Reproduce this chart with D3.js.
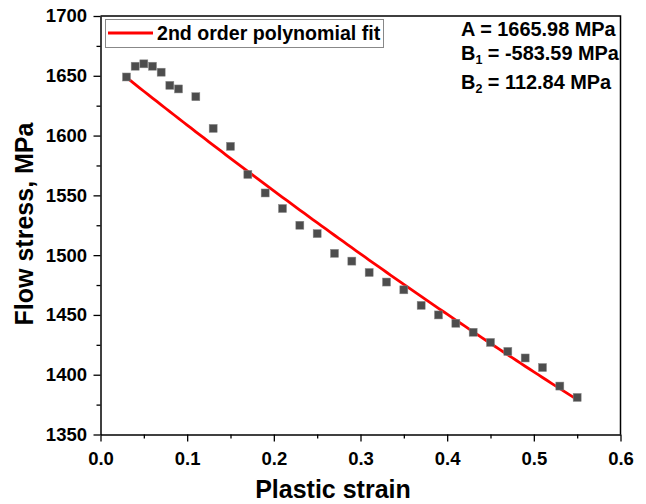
<!DOCTYPE html>
<html>
<head>
<meta charset="utf-8">
<script src="https://cdn.jsdelivr.net/npm/d3@7"></script>
<style>
  html, body { margin: 0; padding: 0; background: #fff; }
  svg { display: block; font-family: Arial, "Liberation Sans", sans-serif; }
</style>
</head>
<body>
<svg id="chart" width="646" height="504"></svg>
<script>
// Measured flow stress against plastic strain
const strain = [0.03, 0.04, 0.05, 0.06, 0.07, 0.08, 0.09, 0.11, 0.13, 0.15,
                0.17, 0.19, 0.21, 0.23, 0.25, 0.27, 0.29, 0.31, 0.33, 0.35,
                0.37, 0.39, 0.41, 0.43, 0.45, 0.47, 0.49, 0.51, 0.53, 0.55];
const stress = [1649, 1658, 1660, 1658, 1653, 1642, 1639, 1632.5, 1606, 1591,
                1567.5, 1552, 1539, 1525, 1518, 1501.5, 1495, 1485.5, 1477.5, 1471,
                1458, 1450, 1443, 1435.5, 1427, 1419.5, 1414, 1406, 1390.5, 1381];

// Second order polynomial fit coefficients (MPa)
const fitA = 1665.98;
const fitB1 = -583.59;
const fitB2 = 112.84;
const fitRange = [0.03, 0.55];

// Tick values
const xTicks = [0.0, 0.1, 0.2, 0.3, 0.4, 0.5, 0.6];
const xMinor = [0.05, 0.15, 0.25, 0.35, 0.45, 0.55];
const yTicks = [1350, 1400, 1450, 1500, 1550, 1600, 1650, 1700];
const yMinor = [1375, 1425, 1475, 1525, 1575, 1625, 1675];

const svg = d3.select("#chart");
const m = { left: 100.5, right: 620.5, top: 16, bottom: 434.5 };

const x = d3.scaleLinear().domain([0, 0.6]).range([m.left, m.right]);
const y = d3.scaleLinear().domain([1350, 1700]).range([m.bottom, m.top]);

// Frame (top and right)
svg.append("path")
  .attr("d", `M${m.left},${m.top}H${m.right}V${m.bottom}`)
  .attr("fill", "none").attr("stroke", "#000").attr("stroke-width", 1.5);

// Bottom axis
const gx = svg.append("g").attr("transform", `translate(0,${m.bottom})`);
gx.call(d3.axisBottom(x).tickValues(xTicks).tickFormat(d3.format(".1f")).tickSize(7).tickSizeOuter(0));
gx.append("g").call(d3.axisBottom(x).tickValues(xMinor).tickFormat("").tickSize(4).tickSizeOuter(0))
  .select(".domain").remove();

// Left axis
const gy = svg.append("g").attr("transform", `translate(${m.left},0)`);
gy.call(d3.axisLeft(y).tickValues(yTicks).tickFormat(d3.format("d")).tickSize(7).tickSizeOuter(0));
gy.append("g").call(d3.axisLeft(y).tickValues(yMinor).tickFormat("").tickSize(4).tickSizeOuter(0))
  .select(".domain").remove();

svg.selectAll(".domain").attr("stroke", "#000").attr("stroke-width", 1.5);
svg.selectAll(".tick line").attr("stroke", "#000").attr("stroke-width", 1.3);
gx.selectAll(".tick text")
  .attr("font-size", 18.5).attr("font-weight", "bold").attr("fill", "#000")
  .attr("font-family", "Arial, 'Liberation Sans', sans-serif")
  .attr("dy", null).attr("y", 30);
gy.selectAll(".tick text")
  .attr("font-size", 18.5).attr("font-weight", "bold").attr("fill", "#000")
  .attr("font-family", "Arial, 'Liberation Sans', sans-serif")
  .attr("x", -13.5);

// Axis titles
svg.append("text")
  .attr("x", 333).attr("y", 498)
  .attr("text-anchor", "middle").attr("font-size", 25).attr("font-weight", "bold")
  .text("Plastic strain");
svg.append("text")
  .attr("transform", "translate(33,224) rotate(-90)")
  .attr("text-anchor", "middle").attr("font-size", 25).attr("font-weight", "bold")
  .text("Flow stress, MPa");

// Fit curve
const fitX = d3.range(fitRange[0], fitRange[1] + 1e-9, 0.005);
const fit = v => fitA + fitB1 * v + fitB2 * v * v;
svg.append("path")
  .datum(fitX)
  .attr("d", d3.line().x(d => x(d)).y(d => y(fit(d))))
  .attr("fill", "none").attr("stroke", "#ff0000").attr("stroke-width", 2.8);

// Data markers
const ms = 8;
svg.append("g").selectAll("rect")
  .data(strain.map((s, i) => [s, stress[i]]))
  .join("rect")
  .attr("x", d => x(d[0]) - ms / 2).attr("y", d => y(d[1]) - ms / 2)
  .attr("width", ms).attr("height", ms)
  .attr("fill", "#4d4d4d").attr("stroke", "#8a8a8a").attr("stroke-width", 0.5);

// Legend
const lg = svg.append("g");
lg.append("rect").attr("x", 105.5).attr("y", 19.5).attr("width", 278).attr("height", 28)
  .attr("fill", "#fff").attr("stroke", "#888").attr("stroke-width", 1);
lg.append("line").attr("x1", 108).attr("x2", 153).attr("y1", 33).attr("y2", 33)
  .attr("stroke", "#ff0000").attr("stroke-width", 2.8);
lg.append("text").attr("x", 157).attr("y", 40).attr("font-size", 19.6).attr("font-weight", "bold")
  .text("2nd order polynomial fit");

// Fit parameter annotation
const ann = svg.append("g").attr("font-size", 19.9).attr("font-weight", "bold");
ann.append("text").attr("x", 461).attr("y", 36).text(`A = ${fitA.toFixed(2)} MPa`);
const t1 = ann.append("text").attr("x", 461).attr("y", 60);
t1.append("tspan").text("B");
t1.append("tspan").attr("font-size", 12.5).attr("dy", 4).text("1");
t1.append("tspan").attr("dy", -4).text(` = ${fitB1.toFixed(2)} MPa`);
const t2 = ann.append("text").attr("x", 461).attr("y", 89);
t2.append("tspan").text("B");
t2.append("tspan").attr("font-size", 12.5).attr("dy", 4).text("2");
t2.append("tspan").attr("dy", -4).text(` = ${fitB2.toFixed(2)} MPa`);
</script>
</body>
</html>
